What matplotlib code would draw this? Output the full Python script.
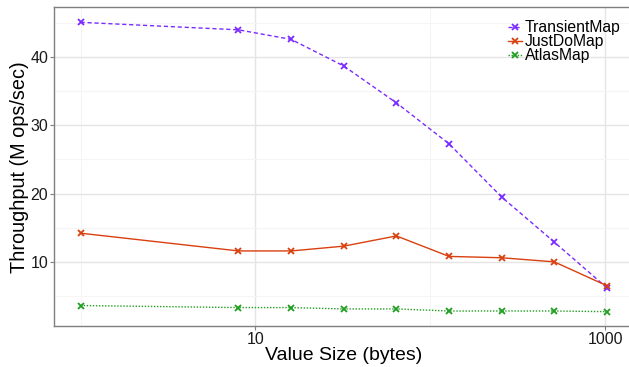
import matplotlib
matplotlib.use("Agg")
import matplotlib.pyplot as plt
from matplotlib.ticker import FixedLocator, NullFormatter

plt.rcParams["font.family"] = ["Liberation Sans", "DejaVu Sans"]

value_sizes = [1, 8, 16, 32, 64, 128, 256, 512, 1024]
transient_map = [45.1, 44.0, 42.6, 38.7, 33.3, 27.3, 19.5, 12.9, 6.2]
just_do_map = [14.2, 11.6, 11.6, 12.3, 13.8, 10.8, 10.6, 10.0, 6.5]
atlas_map = [3.6, 3.3, 3.3, 3.1, 3.1, 2.8, 2.8, 2.8, 2.7]

series = [
    ("TransientMap", transient_map, "#7b2bff", (0, (3, 2))),
    ("JustDoMap", just_do_map, "#d8400f", "-"),
    ("AtlasMap", atlas_map, "#1f9e1f", (0, (1, 1.2))),
]

fig = plt.figure(figsize=(6.29, 3.67), dpi=100)
ax = fig.add_axes([0.0863, 0.1117, 0.9204, 0.8684])

for name, values, color, ls in series:
    ax.plot(value_sizes, values, color=color, linestyle=ls, linewidth=1.0,
            marker="x", markersize=4.5, markeredgewidth=1.3, label=name)

ax.set_xscale("log")
ax.set_xlim(10 ** -0.1505, 10 ** 3.1608)
ax.set_ylim(0.6, 47.3)

ax.xaxis.set_major_locator(FixedLocator([10, 1000]))
ax.xaxis.set_minor_locator(FixedLocator([1, 100]))
ax.xaxis.set_minor_formatter(NullFormatter())
ax.set_xticklabels(["10", "1000"])
ax.set_yticks([10, 20, 30, 40])
ax.yaxis.set_minor_locator(FixedLocator([5, 15, 25, 35, 45]))

ax.grid(which="major", color="#e5e5e5", linewidth=1.0)
ax.grid(which="minor", color="#f5f5f5", linewidth=0.8)
ax.set_axisbelow(True)

for spine in ax.spines.values():
    spine.set_color("#7f7f7f")
    spine.set_linewidth(1.0)

ax.tick_params(which="major", length=3, width=0.8, color="#7f7f7f",
               labelsize=11.5, labelcolor="#1a1a1a", pad=1.5)
ax.tick_params(which="minor", length=0)

ax.set_xlabel("Value Size (bytes)", fontsize=14, labelpad=0)
ax.set_ylabel("Throughput (M ops/sec)", fontsize=14.3, labelpad=1)

leg = ax.legend(loc="upper left", bbox_to_anchor=(508 / 629, 1 - 20 / 367),
                bbox_transform=fig.transFigure, frameon=False, fontsize=11.3,
                handlelength=0.9, handletextpad=0.15, labelspacing=-0.05,
                borderpad=0, borderaxespad=0)

fig.savefig("out.png", dpi=100)
